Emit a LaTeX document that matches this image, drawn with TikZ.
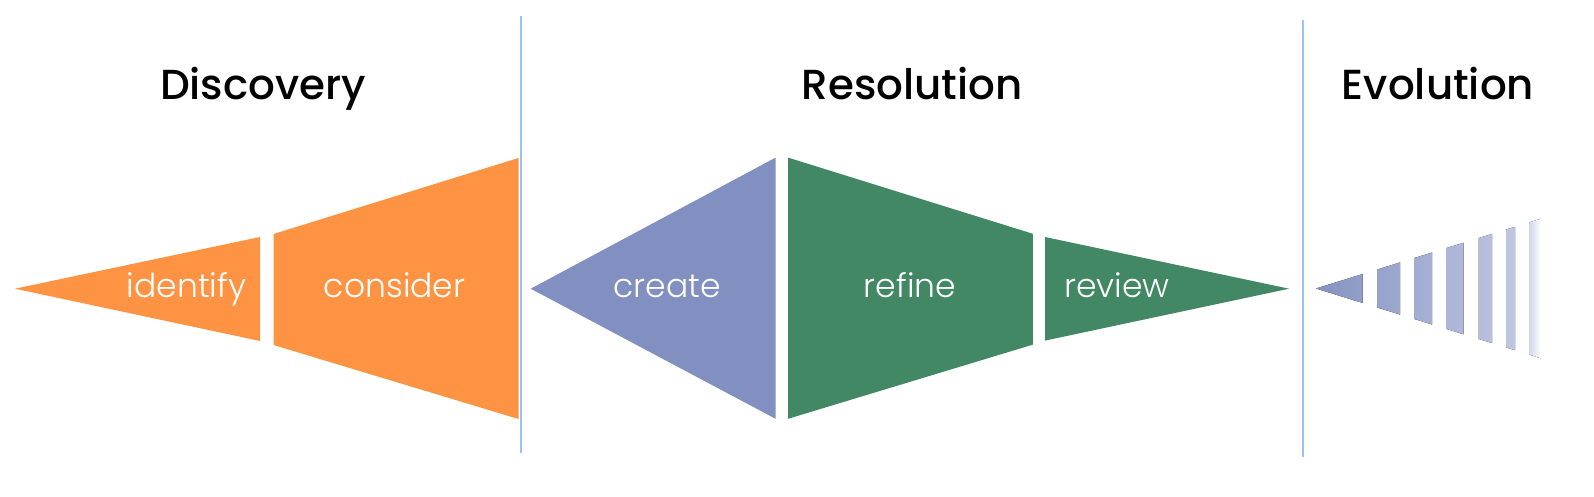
\documentclass[tikz,border=0pt]{standalone}
\usepackage{fontspec}
\setmainfont{Poppins}
\newfontfamily\lightfont{Poppins Light}
\newfontfamily\medfont{Poppins Medium}
\definecolor{orangeA}{HTML}{FE9443}
\definecolor{purpA}{HTML}{8190C0}
\definecolor{greenA}{HTML}{428864}
\definecolor{sepA}{HTML}{9EC0FA}
\definecolor{evoA}{HTML}{8592C2}
\definecolor{evoB}{HTML}{C3CAE2}
\definecolor{evoC}{HTML}{CDD3E9}
\tikzset{
  title/.style={anchor=base, font=\medfont\fontsize{42}{50}\selectfont, text=black, inner sep=0pt},
  lbl/.style={anchor=base, font=\lightfont\fontsize{33}{40}\selectfont, text=white, inner sep=0pt},
  sepline/.style={draw=sepA, line width=2pt},
}
\begin{document}
\begin{tikzpicture}[x=1pt,y=-1pt]
\useasboundingbox[fill=white] (0,0) rectangle (1594,496);
% separators
\coordinate (s1t) at (521,16); \coordinate (s1b) at (521,453);
\coordinate (s2t) at (1302.5,20); \coordinate (s2b) at (1302.5,457);
\draw[sepline] (s1t) -- (s1b);
\draw[sepline] (s2t) -- (s2b);
% titles
\node[title] (discovery) at (263,99) {Discovery};
\node[title] (resolution) at (912,99) {Resolution};
\node[title] (evolution) at (1438,99) {Evolution};
% discovery shapes
\fill[orangeA] (15,288.7) -- (260,237) -- (260,341) -- cycle;
\fill[orangeA] (273.5,234) -- (518.5,158) -- (518.5,419) -- (273.5,345) -- cycle;
% resolution shapes
\fill[purpA] (530.7,288.7) -- (775.6,157.6) -- (775.6,418.8) -- cycle;
\fill[greenA] (788,157.6) -- (1032.9,233.8) -- (1032.9,344.6) -- (788,418.8) -- cycle;
\fill[greenA] (1045,237) -- (1289,288.7) -- (1045,340.6) -- cycle;
% labels
\node[lbl] (identify) at (186.5,297) {identify};
\node[lbl] (consider) at (394.7,297) {consider};
\node[lbl] (create) at (667,297) {create};
\node[lbl] (refine) at (910,297) {refine};
\node[lbl] (review) at (1117,297) {review};
% evolution
\begin{scope}
\clip (1316,200) rectangle (1362.7,380)
      (1377,200) rectangle (1400,380)
      (1414,200) rectangle (1432,380)
      (1446,200) rectangle (1463.7,380)
      (1478,200) rectangle (1492,380)
      (1506,200) rectangle (1515,380)
      (1529,200) rectangle (1541,380);
\clip (1316,288.5) -- (1541,218.7) -- (1541,358.3) -- cycle;
\fill[left color=evoA, right color=evoB] (1316,200) rectangle (1528,380);
\fill[left color=evoC, right color=white] (1528,200) rectangle (1541,380);
\end{scope}
\end{tikzpicture}
\end{document}
